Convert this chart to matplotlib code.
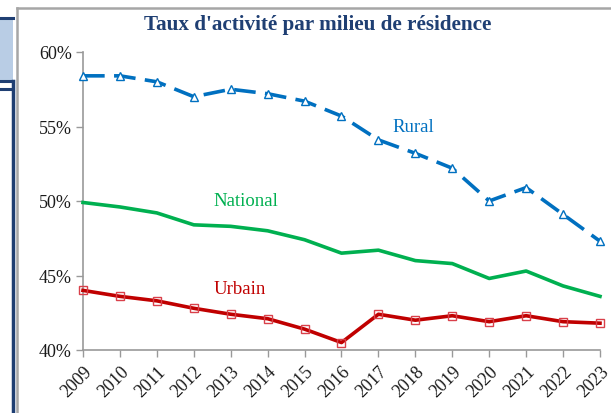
import matplotlib
matplotlib.use("Agg")
import matplotlib.pyplot as plt
from matplotlib.patches import Rectangle
from matplotlib.lines import Line2D

years = list(range(2009, 2024))
rural = [58.4, 58.4, 58.0, 57.0, 57.5, 57.2, 56.7, 55.7, 54.1, 53.2, 52.2, 50.0, 50.9, 49.1, 47.3]
national = [49.9, 49.6, 49.2, 48.4, 48.3, 48.0, 47.4, 46.5, 46.7, 46.0, 45.8, 44.8, 45.3, 44.3, 43.6]
urbain = [44.0, 43.6, 43.3, 42.8, 42.4, 42.1, 41.4, 40.5, 42.4, 42.0, 42.3, 41.9, 42.3, 41.9, 41.8]
yticks = [40, 45, 50, 55, 60]
title = "Taux d'activité par milieu de résidence"

W, H = 611, 414
fig = plt.figure(figsize=(W / 100, H / 100), dpi=100)
plt.rcParams['font.family'] = ['Liberation Serif', 'DejaVu Serif']

def fx(x): return x / W
def fy(y): return 1 - y / H

# decorative frame elements
fig.patches.append(Rectangle((0, fy(81)), fx(13), fy(19) - fy(81), transform=fig.transFigure,
                             facecolor='#B9CDE5', edgecolor='none'))
for (x0, y0, x1, y1, c, lw) in [
    (0, 19, 13, 19, '#1F3F73', 2.2),
    (0, 81.5, 13, 81.5, '#1F3F73', 2.2),
    (0, 89.5, 13, 89.5, '#1F3F73', 2.2),
    (12.5, 81.5, 12.5, 414, '#1F3F73', 2.5),
    (16.5, 9, 16.5, 414, '#A6A6A6', 1.8),
    (16.5, 9, 611, 9, '#A6A6A6', 1.8),
]:
    fig.lines.append(Line2D([fx(x0), fx(x1)], [fy(y0), fy(y1)], transform=fig.transFigure,
                            color=c, lw=lw))

ax = fig.add_axes([fx(83), fy(351), fx(600) - fx(83), fy(53) - fy(351)])
ax.set_xlim(2009, 2023)
ax.set_ylim(40, 60)

ax.plot(years, rural, color='#0070C0', lw=2.6, dashes=(6, 2.6), marker='^', ms=6,
        mfc='white', mec='#0070C0', mew=1.0, clip_on=False, zorder=3)
ax.plot(years, national, color='#00B050', lw=2.6, clip_on=False, zorder=3)
ax.plot(years, urbain, color='#C00000', lw=2.6, marker='s', ms=6,
        mfc='none', mec='#D9404A', mew=1.0, clip_on=False, zorder=3)

ax.text(2017.94, 55.0, 'Rural', color='#0070C0', fontsize=13.5, ha='center', va='center')
ax.text(2013.4, 50.0, 'National', color='#00B050', fontsize=13.5, ha='center', va='center')
ax.text(2013.25, 44.1, 'Urbain', color='#C00000', fontsize=13.5, ha='center', va='center')

ax.set_yticks(yticks)
ax.set_yticklabels([f'{v}%' for v in yticks], fontsize=13, color='#1A1A1A')
ax.set_xticks(years)
ax.set_xticklabels([str(y) for y in years], fontsize=13, rotation=45, ha='right',
                   rotation_mode='anchor', color='#1A1A1A')
ax.tick_params(axis='x', length=5, width=1, color='#999999', pad=4)
ax.tick_params(axis='y', length=5, width=1, color='#999999', pad=3)
for s in ['top', 'right']:
    ax.spines[s].set_visible(False)
for s in ['left', 'bottom']:
    ax.spines[s].set_color('#999999')
    ax.spines[s].set_linewidth(1.2)

fig.text(fx(318), fy(25), title, fontsize=15.2, fontweight='bold', color='#1F3F73',
         ha='center', va='center')

fig.savefig('out.png', dpi=100)
